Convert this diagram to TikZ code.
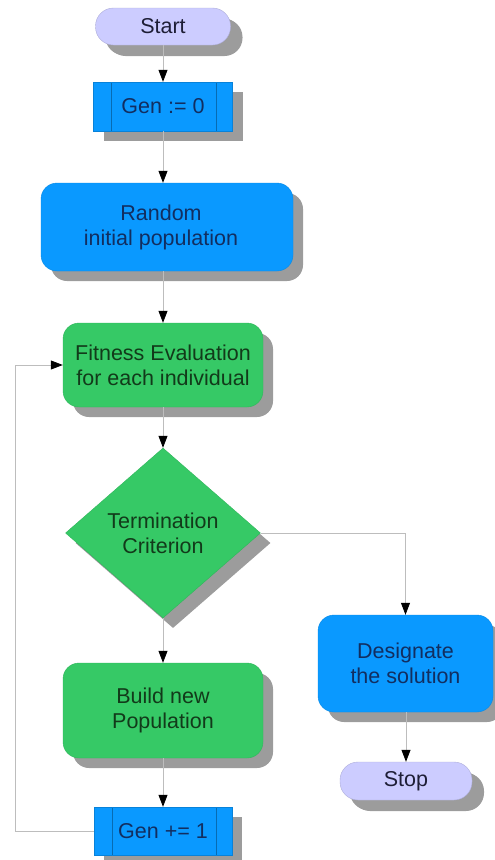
\documentclass[tikz,border=0pt]{standalone}
\usepackage{fontspec}
\setmainfont{Liberation Sans}
\usetikzlibrary{shapes.geometric,shadows,arrows.meta}
\definecolor{lav}{HTML}{CCCCFF}
\definecolor{blu}{HTML}{0A99FF}
\definecolor{grn}{HTML}{36C966}
\definecolor{shd}{HTML}{9C9C9C}
\definecolor{conn}{HTML}{BDBDBD}
\definecolor{bluetext}{HTML}{122E60}
\definecolor{greentext}{HTML}{123A1A}
\definecolor{lavtext}{HTML}{1E1E36}
\tikzset{
  base/.style={inner sep=0pt, align=center, font=\fontsize{21.5}{25}\selectfont,
    drop shadow={shadow xshift=10pt, shadow yshift=-10pt, fill=shd, opacity=1}},
  term/.style={base, fill=lav, draw=lav!85!black, line width=0.4pt, rounded corners=18pt, text=lavtext,
    drop shadow={shadow xshift=12pt, shadow yshift=-11pt, fill=shd, opacity=1}},
  proc/.style={base, fill=blu, draw=blu!90!black, line width=0.4pt, rounded corners=16pt, text=bluetext},
  gproc/.style={base, fill=grn, draw=grn!90!black, line width=0.4pt, rounded corners=16pt, text=greentext},
  predef/.style={base, fill=blu, draw=blu!85!black, line width=0.4pt, text=bluetext,
    path picture={
      \draw[blu!70!black, line width=0.4pt]
        ([xshift=18pt]path picture bounding box.north west) -- ([xshift=18pt]path picture bounding box.south west)
        ([xshift=-16pt]path picture bounding box.north east) -- ([xshift=-16pt]path picture bounding box.south east);
    }},
  decide/.style={base, diamond, fill=grn, draw=grn!90!black, line width=0.4pt, text=greentext},
  conline/.style={draw=conn, line width=0.8pt, -{Triangle[length=12pt,width=9pt,color=black]}},
}
\begin{document}
\begin{tikzpicture}[x=1pt,y=-1pt]
\useasboundingbox (0,0) rectangle (495,860);
\node[term, minimum width=135pt, minimum height=37pt] (start) at (163,26.5) {Start};
\node[predef, minimum width=139pt, minimum height=49pt] (gen0) at (163,106.5) {Gen := 0};
\node[proc, minimum width=252pt, minimum height=88pt] (rand) at (167,227) {Random\hspace*{12pt}\\initial population\hspace*{12pt}};
\node[gproc, minimum width=200pt, minimum height=84pt] (fit) at (163,365) {Fitness Evaluation\\for each individual};
\node[decide, minimum width=195pt, minimum height=170pt] (term) at (163,533) {Termination\\Criterion};
\node[gproc, minimum width=200pt, minimum height=95pt] (build) at (163,710.5) {Build new\\Population};
\node[predef, minimum width=138pt, minimum height=48pt] (gen1) at (163,831) {Gen += 1};
\node[proc, minimum width=175pt, minimum height=97pt] (desig) at (405.5,663.5) {Designate\\the solution};
\node[term, minimum width=132pt, minimum height=38pt] (stop) at (406,781) {Stop};
\coordinate (loopbot) at (15,831);
\coordinate (looptop) at (15,365);
\coordinate (rightturn) at (405.5,533);

\draw[conline] (start.south) -- (gen0.north);
\draw[conline] (gen0.south) -- (gen0.south |- rand.north);
\draw[conline] (gen0.south |- rand.south) -- (fit.north);
\draw[conline] (fit.south) -- (term.north);
\draw[conline] (term.south) -- (build.north);
\draw[conline] (build.south) -- (gen1.north);
\draw[conline] (gen1.west) -- (loopbot) -- (looptop) -- (fit.west);
\draw[conline] (term.east) -- (rightturn) -- (desig.north);
\draw[conline] (desig.south) -- (desig.south -| stop.north) -- (stop.north);
\end{tikzpicture}
\end{document}
